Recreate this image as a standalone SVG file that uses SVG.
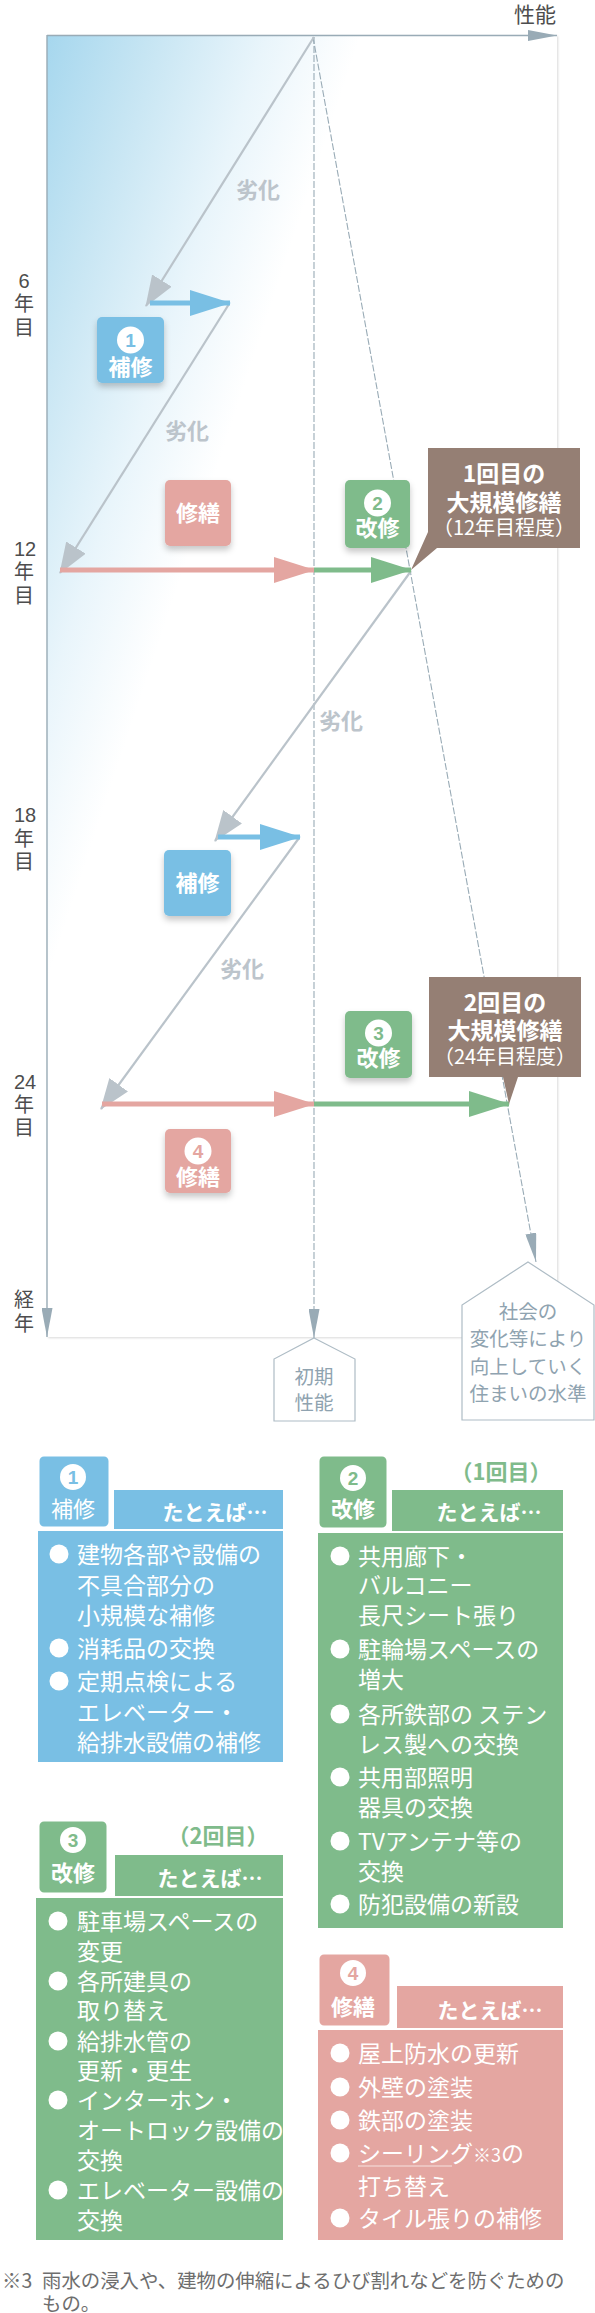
<svg xmlns="http://www.w3.org/2000/svg" width="595" height="2313" viewBox="0 0 595 2313">
<defs>
  <linearGradient id="bg" gradientUnits="userSpaceOnUse" x1="47" y1="35" x2="330" y2="129">
    <stop offset="0" stop-color="#a6d7ee"/>
    <stop offset="0.33" stop-color="#c6e5f3"/>
    <stop offset="0.7" stop-color="#e9f5fb"/>
    <stop offset="1" stop-color="#ffffff"/>
  </linearGradient>
  <filter id="sh" x="-30%" y="-30%" width="160%" height="170%">
    <feDropShadow dx="0" dy="4" stdDeviation="3" flood-color="#000" flood-opacity="0.22"/>
  </filter>
  <filter id="fsh" x="-2%" y="-2%" width="104%" height="104%">
    <feDropShadow dx="1" dy="1" stdDeviation="1" flood-color="#000" flood-opacity="0.15"/>
  </filter>
  <marker id="mg" viewBox="0 0 31 23" refX="30" refY="11.5" markerWidth="31" markerHeight="23" markerUnits="userSpaceOnUse" orient="auto">
    <path d="M0,0 L31,11.5 L0,23 Z" fill="#bac3ca"/>
  </marker>
  <marker id="mb" viewBox="0 0 41 26" refX="40" refY="13" markerWidth="41" markerHeight="26" markerUnits="userSpaceOnUse" orient="auto">
    <path d="M0,0 L41,13 L0,26 Z" fill="#79bfe4"/>
  </marker>
  <marker id="mp" viewBox="0 0 41 26" refX="40" refY="13" markerWidth="41" markerHeight="26" markerUnits="userSpaceOnUse" orient="auto">
    <path d="M0,0 L41,13 L0,26 Z" fill="#e4a6a1"/>
  </marker>
  <marker id="mgr" viewBox="0 0 41 26" refX="40" refY="13" markerWidth="41" markerHeight="26" markerUnits="userSpaceOnUse" orient="auto">
    <path d="M0,0 L41,13 L0,26 Z" fill="#7fbb8b"/>
  </marker>
  <marker id="ma" viewBox="0 0 29 11" refX="29" refY="5.5" markerWidth="29" markerHeight="11" markerUnits="userSpaceOnUse" orient="auto">
    <path d="M0,0 L29,5.5 L0,11 Z" fill="#99abb6"/>
  </marker>
</defs>
<style>
  .ax { font-family: "Liberation Sans", "Noto Sans CJK JP", sans-serif; font-size: 20px; fill: #4d4d4d; text-anchor: middle; }
  .axj { font-family: "Noto Sans CJK JP", sans-serif; font-size: 20px; fill: #4d4d4d; text-anchor: middle; }
  .deg { font-family: "Noto Sans CJK JP", sans-serif; font-size: 22px; font-weight: bold; fill: #bcc4cb; text-anchor: middle; }
  .bt { font-family: "Noto Sans CJK JP", sans-serif; font-size: 22px; font-weight: bold; fill: #ffffff; text-anchor: middle; }
  .ct { font-family: "Noto Sans CJK JP", sans-serif; font-size: 23px; font-weight: bold; fill: #ffffff; text-anchor: middle; }
  .cs { font-family: "Noto Sans CJK JP", sans-serif; font-size: 20px; fill: #ffffff; text-anchor: middle; }
  .num { font-family: "Liberation Sans", sans-serif; font-size: 19px; font-weight: bold; text-anchor: middle; }
  .pt { font-family: "Noto Sans CJK JP", sans-serif; font-size: 19.5px; fill: #8fa3b0; text-anchor: middle; }
  .pent { fill: #ffffff; stroke: #aebcc5; stroke-width: 1.2; }
  .gl { stroke: #bac3ca; stroke-width: 2.2; fill: none; marker-end: url(#mg); }
  .dash { stroke: #99abb6; stroke-width: 1.1; stroke-dasharray: 7 2; fill: none; marker-end: url(#ma); }
  .axis { stroke: #99abb6; stroke-width: 1.4; fill: none; marker-end: url(#ma); }
  .lt { font-family: "Noto Sans CJK JP", sans-serif; font-size: 23px; fill: #ffffff; }
  .lh { font-family: "Noto Sans CJK JP", sans-serif; font-size: 21px; font-weight: bold; fill: #ffffff; text-anchor: middle; }
  .tabt { font-family: "Noto Sans CJK JP", sans-serif; font-size: 22px; fill: #ffffff; text-anchor: middle; }
  .tabb { font-family: "Noto Sans CJK JP", sans-serif; font-size: 22px; font-weight: bold; fill: #ffffff; text-anchor: middle; }
  .kai { font-family: "Noto Sans CJK JP", sans-serif; font-size: 22px; font-weight: bold; fill: #7fbb8b; text-anchor: middle; }
  .blue { fill: #79bfe4; }
  .green { fill: #7fbb8b; }
  .pink { fill: #e4a6a1; }
  .brown { fill: #957f74; }
  .tab { stroke: #ffffff; stroke-width: 3; }
  .fn { font-family: "Noto Sans CJK JP", sans-serif; font-size: 19.4px; fill: #6e6e6e; }
</style>

<!-- chart frame -->
<g id="frame">
  <rect x="47" y="35" width="510" height="1302" fill="url(#bg)" filter="url(#fsh)"/>
</g>

<!-- axis labels -->
<g id="axis-labels">
  <text class="axj" x="535" y="22" style="font-size:21px">性能</text>
  <text class="ax" x="24" y="288">6</text>
  <text class="axj" x="24" y="311">年</text>
  <text class="axj" x="24" y="335">目</text>
  <text class="ax" x="25" y="556">12</text>
  <text class="axj" x="24" y="579">年</text>
  <text class="axj" x="24" y="603">目</text>
  <text class="ax" x="25" y="822">18</text>
  <text class="axj" x="24" y="846">年</text>
  <text class="axj" x="24" y="869">目</text>
  <text class="ax" x="25" y="1089">24</text>
  <text class="axj" x="24" y="1112">年</text>
  <text class="axj" x="24" y="1135">目</text>
  <text class="axj" x="24" y="1307">経</text>
  <text class="axj" x="24" y="1331">年</text>
</g>

<!-- connectors -->
<g id="connectors">
  <line class="axis" x1="47" y1="35.5" x2="557" y2="35.5"/>
  <line class="axis" x1="47" y1="35" x2="47" y2="1337"/>
  <line class="dash" x1="314" y1="37" x2="314" y2="1338"/>
  <line class="dash" x1="313" y1="37" x2="536" y2="1262"/>
  <line class="gl" x1="314" y1="37" x2="146" y2="306"/>
  <line class="gl" x1="229" y1="304" x2="60" y2="573"/>
  <line class="gl" x1="411" y1="571" x2="215" y2="841"/>
  <line class="gl" x1="299" y1="838" x2="101" y2="1109"/>
  <line stroke="#79bfe4" stroke-width="5" x1="150" y1="303" x2="230" y2="303" marker-end="url(#mb)"/>
  <line stroke="#e4a6a1" stroke-width="5" x1="60" y1="570" x2="314" y2="570" marker-end="url(#mp)"/>
  <line stroke="#7fbb8b" stroke-width="5" x1="314" y1="570" x2="411" y2="570" marker-end="url(#mgr)"/>
  <line stroke="#79bfe4" stroke-width="5" x1="218" y1="837" x2="300" y2="837" marker-end="url(#mb)"/>
  <line stroke="#e4a6a1" stroke-width="5" x1="102" y1="1104" x2="314" y2="1104" marker-end="url(#mp)"/>
  <line stroke="#7fbb8b" stroke-width="5" x1="314" y1="1104" x2="509" y2="1104" marker-end="url(#mgr)"/>
</g>

<!-- degradation labels -->
<g id="deg-labels">
  <text class="deg" x="258" y="198">劣化</text>
  <text class="deg" x="187" y="439">劣化</text>
  <text class="deg" x="341" y="729">劣化</text>
  <text class="deg" x="242" y="977">劣化</text>
</g>

<!-- badges -->
<g id="badge-1">
  <rect class="blue" x="97" y="317" width="67" height="66" rx="5" filter="url(#sh)"/>
  <circle cx="130.5" cy="340" r="13.5" fill="#fff"/>
  <text class="num" x="130.5" y="347" fill="#79bfe4">1</text>
  <text class="bt" x="130.5" y="375">補修</text>
</g>
<g id="badge-shuzen-1">
  <rect class="pink" x="165" y="480" width="66" height="66" rx="5" filter="url(#sh)"/>
  <text class="bt" x="198" y="521">修繕</text>
</g>
<g id="badge-2">
  <rect class="green" x="345" y="480" width="65" height="68" rx="5" filter="url(#sh)"/>
  <circle cx="377.5" cy="503" r="13.5" fill="#fff"/>
  <text class="num" x="377.5" y="510" fill="#7fbb8b">2</text>
  <text class="bt" x="377.5" y="536">改修</text>
</g>
<g id="callout-1">
  <path class="brown" d="M428,448 H580 V548 H437 L411,570 L428,532 Z"/>
  <text class="ct" x="504" y="482">1回目の</text>
  <text class="ct" x="504" y="511">大規模修繕</text>
  <text class="cs" x="504" y="535">（12年目程度）</text>
</g>
<g id="badge-hoshu-2">
  <rect class="blue" x="164" y="850" width="67" height="66" rx="5" filter="url(#sh)"/>
  <text class="bt" x="197.5" y="891">補修</text>
</g>
<g id="badge-3">
  <rect class="green" x="345" y="1011" width="67" height="67" rx="5" filter="url(#sh)"/>
  <circle cx="378.5" cy="1033" r="13.5" fill="#fff"/>
  <text class="num" x="378.5" y="1040" fill="#7fbb8b">3</text>
  <text class="bt" x="378.5" y="1066">改修</text>
</g>
<g id="callout-2">
  <path class="brown" d="M429,977 H581 V1077 H518 L509,1104 L503,1077 H429 Z"/>
  <text class="ct" x="505" y="1011">2回目の</text>
  <text class="ct" x="505" y="1039">大規模修繕</text>
  <text class="cs" x="505" y="1064">（24年目程度）</text>
</g>
<g id="badge-4">
  <rect class="pink" x="165" y="1129" width="66" height="64" rx="5" filter="url(#sh)"/>
  <circle cx="198" cy="1151" r="13.5" fill="#fff"/>
  <text class="num" x="198" y="1158" fill="#e4a6a1">4</text>
  <text class="bt" x="198" y="1185">修繕</text>
</g>

<!-- end labels -->
<g id="initial-perf">
  <path class="pent" d="M314,1338 L355,1359 V1421 H274 V1359 Z"/>
  <text class="pt" x="314" y="1384">初期</text>
  <text class="pt" x="314" y="1410">性能</text>
</g>
<g id="social-level">
  <path class="pent" d="M528,1262 L594,1305 V1420 H462 V1305 Z"/>
  <text class="pt" x="528" y="1319">社会の</text>
  <text class="pt" x="528" y="1346">変化等により</text>
  <text class="pt" x="528" y="1374">向上していく</text>
  <text class="pt" x="528" y="1401">住まいの水準</text>
</g>

<!-- legend 1 -->
<g id="legend-1">
  <rect class="blue" x="38" y="1531" width="245" height="231"/>
  <rect class="blue" x="114" y="1490" width="169" height="39"/>
  <rect class="blue tab" x="38" y="1455" width="72" height="73" rx="6"/>
  <circle cx="73" cy="1477" r="13" fill="#fff"/>
  <text class="num" x="73" y="1484" fill="#79bfe4">1</text>
  <text class="tabt" x="73" y="1517">補修</text>
  <text class="lh" x="215" y="1520">たとえば…</text>
  <g fill="#fff"><circle cx="59" cy="1554" r="9.5"/><circle cx="59" cy="1648" r="9.5"/><circle cx="59" cy="1681" r="9.5"/></g>
  <text class="lt" x="77" y="1563">建物各部や設備の</text>
  <text class="lt" x="77" y="1594">不具合部分の</text>
  <text class="lt" x="77" y="1624">小規模な補修</text>
  <text class="lt" x="77" y="1657">消耗品の交換</text>
  <text class="lt" x="77" y="1690">定期点検による</text>
  <text class="lt" x="77" y="1721">エレベーター・</text>
  <text class="lt" x="77" y="1751">給排水設備の補修</text>
</g>

<!-- legend 2 -->
<g id="legend-2">
  <text class="kai" x="501" y="1480">（1回目）</text>
  <rect class="green" x="318" y="1533" width="245" height="395"/>
  <rect class="green" x="392" y="1490" width="171" height="41"/>
  <rect class="green tab" x="318" y="1455" width="70" height="74" rx="6"/>
  <circle cx="353" cy="1478" r="13" fill="#fff"/>
  <text class="num" x="353" y="1485" fill="#7fbb8b">2</text>
  <text class="tabb" x="353" y="1517">改修</text>
  <text class="lh" x="489" y="1520">たとえば…</text>
  <g fill="#fff"><circle cx="340" cy="1556" r="9.5"/><circle cx="340" cy="1649" r="9.5"/><circle cx="340" cy="1714" r="9.5"/><circle cx="340" cy="1777" r="9.5"/><circle cx="340" cy="1841" r="9.5"/><circle cx="340" cy="1904" r="9.5"/></g>
  <text class="lt" x="358" y="1565">共用廊下・</text>
  <text class="lt" x="358" y="1594">バルコニー</text>
  <text class="lt" x="358" y="1624">長尺シート張り</text>
  <text class="lt" x="358" y="1658">駐輪場スペースの</text>
  <text class="lt" x="358" y="1688">増大</text>
  <text class="lt" x="358" y="1723">各所鉄部の ステン</text>
  <text class="lt" x="358" y="1753">レス製への交換</text>
  <text class="lt" x="358" y="1786">共用部照明</text>
  <text class="lt" x="358" y="1816">器具の交換</text>
  <text class="lt" x="358" y="1850">TVアンテナ等の</text>
  <text class="lt" x="358" y="1880">交換</text>
  <text class="lt" x="358" y="1913">防犯設備の新設</text>
</g>

<!-- legend 3 -->
<g id="legend-3">
  <text class="kai" x="218" y="1844">（2回目）</text>
  <rect class="green" x="36" y="1898" width="247" height="342"/>
  <rect class="green" x="115" y="1855" width="168" height="41"/>
  <rect class="green tab" x="38" y="1820" width="70" height="74" rx="6"/>
  <circle cx="73" cy="1840" r="13" fill="#fff"/>
  <text class="num" x="73" y="1847" fill="#7fbb8b">3</text>
  <text class="tabb" x="73" y="1881">改修</text>
  <text class="lh" x="210" y="1886">たとえば…</text>
  <g fill="#fff"><circle cx="58" cy="1921" r="9.5"/><circle cx="58" cy="1981" r="9.5"/><circle cx="58" cy="2041" r="9.5"/><circle cx="58" cy="2100" r="9.5"/><circle cx="58" cy="2190" r="9.5"/></g>
  <text class="lt" x="77" y="1930">駐車場スペースの</text>
  <text class="lt" x="77" y="1960">変更</text>
  <text class="lt" x="77" y="1990">各所建具の</text>
  <text class="lt" x="77" y="2019">取り替え</text>
  <text class="lt" x="77" y="2050">給排水管の</text>
  <text class="lt" x="77" y="2079">更新・更生</text>
  <text class="lt" x="77" y="2109">インターホン・</text>
  <text class="lt" x="77" y="2139">オートロック設備の</text>
  <text class="lt" x="77" y="2169">交換</text>
  <text class="lt" x="77" y="2199">エレベーター設備の</text>
  <text class="lt" x="77" y="2229">交換</text>
</g>

<!-- legend 4 -->
<g id="legend-4">
  <rect class="pink" x="318" y="2030" width="245" height="210"/>
  <rect class="pink" x="397" y="1986" width="166" height="42"/>
  <rect class="pink tab" x="318" y="1953" width="73" height="74" rx="6"/>
  <circle cx="353" cy="1973" r="13" fill="#fff"/>
  <text class="num" x="353" y="1980" fill="#e4a6a1">4</text>
  <text class="tabb" x="353" y="2015">修繕</text>
  <text class="lh" x="490" y="2018">たとえば…</text>
  <g fill="#fff"><circle cx="340" cy="2053" r="9.5"/><circle cx="340" cy="2087" r="9.5"/><circle cx="340" cy="2120" r="9.5"/><circle cx="340" cy="2153" r="9.5"/><circle cx="340" cy="2218" r="9.5"/></g>
  <text class="lt" x="358" y="2062">屋上防水の更新</text>
  <text class="lt" x="358" y="2096">外壁の塗装</text>
  <text class="lt" x="358" y="2129">鉄部の塗装</text>
  <text class="lt" x="358" y="2162">シーリング<tspan font-size="18">※3</tspan>の</text>
  <line x1="358" y1="2166" x2="452" y2="2166" stroke="#f6e2e0" stroke-width="1.2"/>
  <text class="lt" x="358" y="2195">打ち替え</text>
  <text class="lt" x="358" y="2227">タイル張りの補修</text>
</g>

<!-- footnote -->
<g id="footnote">
  <text class="fn" x="2" y="2288">※3</text>
  <text class="fn" x="42" y="2288">雨水の浸入や、建物の伸縮によるひび割れなどを防ぐための</text>
  <text class="fn" x="42" y="2311">もの。</text>
</g>
</svg>
